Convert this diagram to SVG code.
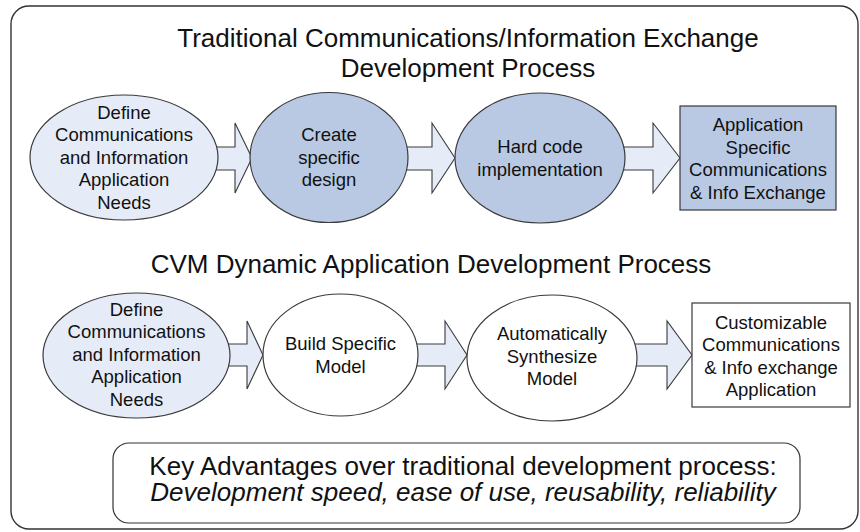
<svg xmlns="http://www.w3.org/2000/svg" width="860" height="532" viewBox="0 0 860 532">
<style>
text{font-family:"Liberation Sans",Arial,sans-serif;fill:#111;text-anchor:middle}
.t{font-size:26px}
.n{font-size:18.5px}
.i{font-style:italic}
.ln{stroke:#3a3a3a;stroke-width:1.2}
.lite{fill:#e6ecf7}
.dark{fill:#b9c9e3}
.wh{fill:#fff}
.arr{fill:#e6ecf7;stroke:#3a3a3a;stroke-width:1.1;stroke-linejoin:miter}
</style>
<rect id="frame" x="11" y="6" width="847" height="523" rx="18" fill="#fff" stroke="#333" stroke-width="1.4"/>
<g id="title1">
<text class="t" x="468" y="47">Traditional Communications/Information Exchange</text>
<text class="t" x="468" y="77">Development Process</text>
</g>
<g id="title2">
<text class="t" x="431" y="273">CVM Dynamic Application Development Process</text>
</g>
<g id="connectors">
<path class="arr" d="M200 147 H235 V123 L252 158 L235 193 V170 H200 Z"/>
<path class="arr" d="M395 147 H432 V123 L455 158 L432 193 V170 H395 Z"/>
<path class="arr" d="M615 147 H653 V123 L680 158 L653 193 V170 H615 Z"/>
<path class="arr" d="M215 344 H247 V321 L263 355 L247 389 V366 H215 Z"/>
<path class="arr" d="M405 344 H445 V321 L467 355 L445 389 V366 H405 Z"/>
<path class="arr" d="M625 344 H667 V321 L692 355 L667 389 V366 H625 Z"/>
</g>
<g id="n1">
<ellipse class="lite ln" cx="124" cy="157.5" rx="94" ry="62.5"/>
<text class="n" x="124" y="118.5">Define</text>
<text class="n" x="124" y="141">Communications</text>
<text class="n" x="124" y="163.5">and Information</text>
<text class="n" x="124" y="186">Application</text>
<text class="n" x="124" y="208.5">Needs</text>
</g>
<g id="n2">
<ellipse class="dark ln" cx="329" cy="157.5" rx="79" ry="65"/>
<text class="n" x="329" y="141">Create</text>
<text class="n" x="329" y="163.5">specific</text>
<text class="n" x="329" y="186">design</text>
</g>
<g id="n3">
<ellipse class="dark ln" cx="540" cy="158" rx="85" ry="65"/>
<text class="n" x="540" y="153">Hard code</text>
<text class="n" x="540" y="175.5">implementation</text>
</g>
<g id="n4">
<rect class="dark ln" x="680" y="106" width="156" height="104"/>
<text class="n" x="758" y="131">Application</text>
<text class="n" x="758" y="153.5">Specific</text>
<text class="n" x="758" y="176">Communications</text>
<text class="n" x="758" y="198.5">&amp; Info Exchange</text>
</g>
<g id="n5">
<ellipse class="lite ln" cx="136.5" cy="355.5" rx="93.5" ry="62.5"/>
<text class="n" x="136.5" y="315.5">Define</text>
<text class="n" x="136.5" y="338">Communications</text>
<text class="n" x="136.5" y="360.5">and Information</text>
<text class="n" x="136.5" y="383">Application</text>
<text class="n" x="136.5" y="405.5">Needs</text>
</g>
<g id="n6">
<ellipse class="wh ln" cx="340.5" cy="355" rx="77.5" ry="61"/>
<text class="n" x="340.5" y="350">Build Specific</text>
<text class="n" x="340.5" y="372.5">Model</text>
</g>
<g id="n7">
<ellipse class="wh ln" cx="552" cy="358" rx="85" ry="63"/>
<text class="n" x="552" y="340">Automatically</text>
<text class="n" x="552" y="362.5">Synthesize</text>
<text class="n" x="552" y="385">Model</text>
</g>
<g id="n8">
<rect class="wh ln" x="692" y="303" width="158" height="104"/>
<text class="n" x="771" y="328.5">Customizable</text>
<text class="n" x="771" y="351">Communications</text>
<text class="n" x="771" y="373.5">&amp; Info exchange</text>
<text class="n" x="771" y="396">Application</text>
</g>
<g id="advantages">
<rect x="113" y="443" width="687" height="80" rx="16" fill="#fff" stroke="#333" stroke-width="1.2"/>
<text class="t" x="463" y="474.5">Key Advantages over traditional development process:</text>
<text class="t i" x="463" y="500.5">Development speed, ease of use, reusability, reliability</text>
</g>
</svg>
